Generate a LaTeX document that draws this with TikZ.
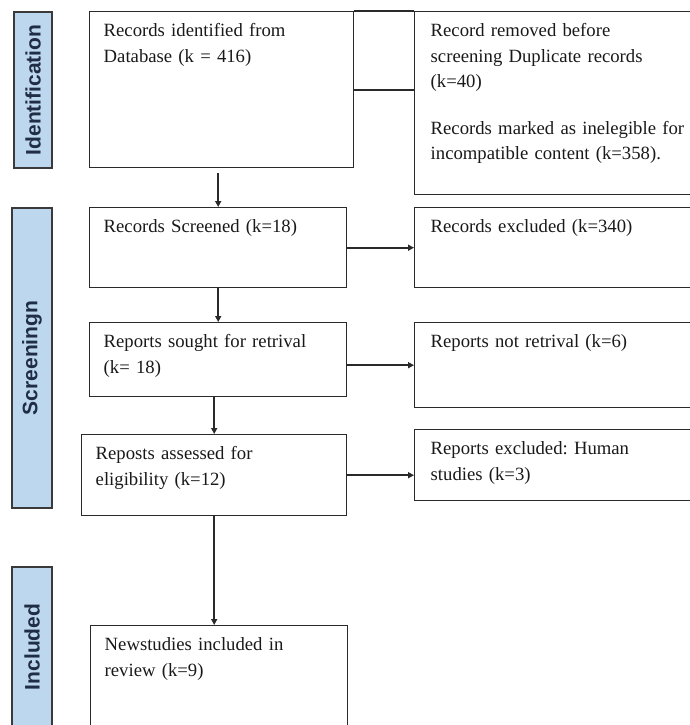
\documentclass[tikz,border=0pt]{standalone}
\usepackage{fontspec}
\setmainfont{Liberation Serif}
\newfontfamily\sidefont{Liberation Sans}
\usetikzlibrary{arrows.meta}
\definecolor{barfill}{HTML}{BDD7EE}
\definecolor{barline}{HTML}{3A3A3A}
\definecolor{bartext}{HTML}{1F2D45}
\definecolor{boxline}{HTML}{2A2A2A}
\frenchspacing
\begin{document}
\begin{tikzpicture}[x=1pt,y=-1pt,phase_node/.style={draw=barline,fill=barfill,line width=1.3pt,rotate=90,inner sep=0pt,text=bartext,font=\sidefont\bfseries\fontsize{21}{21}\selectfont},box_node/.style={draw=boxline,line width=1.4pt,anchor=north west,align=left,inner xsep=14pt,inner ysep=0pt,text height=25pt,text=black!90,font=\fontsize{18.7}{25.5}\selectfont},flow/.style={draw=boxline,line width=1.6pt,-{Triangle[length=6pt,width=6pt]}},link/.style={draw=boxline,line width=1.6pt}]
		
		\useasboundingbox (0,0) rectangle (690,725);
		\clip (0,0) rectangle (690,725);
		
		\node[phase_node,minimum width=156pt,minimum height=38pt] (ident) at (33,90) {Identification};
		\node[phase_node,minimum width=300pt,minimum height=40pt] (screen) at (32,358) {Screeningn};
		\node[phase_node,minimum width=160pt,minimum height=40pt] (incl) at (32,647) {Included};
		
		\node[box_node,text width=236pt,text depth=131pt] (rec) at (89,11) {Records identified from\\Database (k = 416)};
		\node[box_node,inner xsep=16pt,text width=268pt,text depth=158pt] (rem) at (414,11) {Record removed before\\screening Duplicate records\\(k=40)\\[21pt]Records marked as inelegible for\\incompatible content (k=358).};
		\node[box_node,text width=229pt,text depth=55pt] (scr) at (89,207) {Records Screened (k=18)};
		\node[box_node,inner xsep=16pt,text width=268pt,text depth=55pt] (exc) at (414,207) {Records excluded (k=340)};
		\node[box_node,text width=229pt,text depth=49pt] (sou) at (89,322) {Reports sought for retrival\\(k= 18)};
		\node[box_node,inner xsep=16pt,text width=268pt,text depth=60pt] (ret) at (414,322) {Reports not retrival (k=6)};
		\node[box_node,text width=237pt,text depth=56pt] (ass) at (81,434) {Reposts assessed for\\eligibility (k=12)};
		\node[box_node,inner xsep=16pt,text width=268pt,text depth=46pt] (hum) at (414,429) {Reports excluded: Human\\studies (k=3)};
		\node[box_node,text width=229pt,text depth=95pt] (inc) at (90,625) {Newstudies included in\\review (k=9)};
		
		\draw[link] (rec.north east) -- (rem.north west);
		\draw[link] (rec.east) -- (rec.east -| rem.west);
		\draw[flow] ([yshift=-5pt]scr.north |- rec.south) -- (scr.north);
		\draw[flow] (scr.east) -- (exc.west);
		\draw[flow] (scr.south) -- (scr.south |- sou.north);
		\draw[flow] (sou.east |- ret.west) -- (ret.west);
		\draw[flow] (sou.south -| ass.north) -- (ass.north);
		\draw[flow] (ass.east) -- (ass.east -| hum.west);
		\draw[flow] (ass.south) -- (ass.south |- inc.north);
		\end{tikzpicture}
\end{document}
